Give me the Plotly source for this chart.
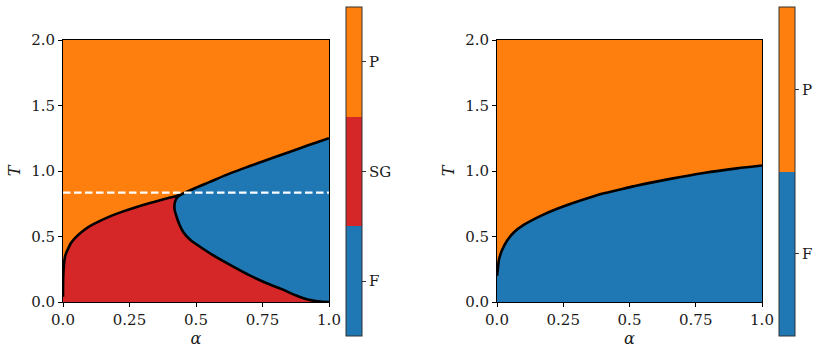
import plotly.graph_objects as go

# ---------------- data ----------------
ALPHA_RANGE = [0.0, 1.0]
T_RANGE = [0.0, 2.0]
X_TICKS = [0.0, 0.25, 0.5, 0.75, 1.0]
X_TICKTEXT = ["0.0", "0.25", "0.5", "0.75", "1.0"]
Y_TICKS = [0.0, 0.5, 1.0, 1.5, 2.0]
Y_TICKTEXT = ["0.0", "0.5", "1.0", "1.5", "2.0"]

# left panel: P / SG boundary (alpha, T)
psg_alpha = [0.0, 0.0, 0.001, 0.004, 0.0075, 0.013, 0.02, 0.03, 0.045, 0.07, 0.095, 0.12, 0.17, 0.221, 0.271, 0.327, 0.365, 0.40, 0.427, 0.445]
psg_T = [0.0, 0.04, 0.2, 0.29, 0.346, 0.38, 0.41, 0.45, 0.488, 0.535, 0.572, 0.60, 0.648, 0.688, 0.722, 0.756, 0.777, 0.795, 0.809, 0.822]

# left panel: SG / F boundary (from the triple point down to alpha=1, T=0)
sgf_alpha = [0.445, 0.43, 0.422, 0.419, 0.42, 0.427, 0.438, 0.452, 0.478, 0.515, 0.57, 0.64, 0.70, 0.766, 0.82, 0.86, 0.891, 0.92, 0.95, 0.975, 1.0]
sgf_T = [0.822, 0.80, 0.77, 0.74, 0.70, 0.651, 0.59, 0.535, 0.475, 0.422, 0.35, 0.27, 0.205, 0.143, 0.10, 0.064, 0.038, 0.019, 0.007, 0.002, 0.0]

# left panel: P / F boundary (from the triple point up to alpha=1)
pf_alpha = [0.445, 0.50, 0.55, 0.628, 0.70, 0.766, 0.816, 0.891, 0.95, 1.0]
pf_T = [0.822, 0.872, 0.915, 0.982, 1.036, 1.084, 1.12, 1.174, 1.216, 1.25]

DASH_T = 0.835

# right panel: P / F boundary
pf2_alpha = [0.0, 0.003, 0.0075, 0.02, 0.039, 0.064, 0.102, 0.165, 0.227, 0.315, 0.403, 0.498, 0.529, 0.654, 0.78, 0.905, 1.0]
pf2_T = [0.2, 0.25, 0.324, 0.40, 0.471, 0.532, 0.59, 0.658, 0.712, 0.775, 0.83, 0.875, 0.89, 0.94, 0.985, 1.02, 1.042]

LEFT_LABELS = ["F", "SG", "P"]
RIGHT_LABELS = ["F", "P"]

# ---------------- styles ----------------
C_P = "#ff7f0e"
C_SG = "#d62728"
C_F = "#1f77b4"
FONT = "DejaVu Serif"
TXT = "#1a1a1a"
W, H = 821, 351

fig = go.Figure()


def poly(xs, ys, color, xa, ya):
    fig.add_trace(go.Scatter(x=xs, y=ys, mode="lines", fill="toself", fillcolor=color,
                             line=dict(width=0, color=color), hoverinfo="skip",
                             showlegend=False, xaxis=xa, yaxis=ya))


def line(xs, ys, xa, ya, color="black", width=2.6, dash=None, shape="spline"):
    fig.add_trace(go.Scatter(x=xs, y=ys, mode="lines",
                             line=dict(width=width, color=color, dash=dash, shape=shape, smoothing=0.8),
                             hoverinfo="skip", showlegend=False, xaxis=xa, yaxis=ya))


rect_x = [ALPHA_RANGE[0], ALPHA_RANGE[1], ALPHA_RANGE[1], ALPHA_RANGE[0]]
rect_y = [T_RANGE[0], T_RANGE[0], T_RANGE[1], T_RANGE[1]]

# ----- left panel -----
poly(rect_x, rect_y, C_P, "x", "y")
poly(psg_alpha + sgf_alpha, psg_T + sgf_T, C_SG, "x", "y")
poly(pf_alpha + sgf_alpha[::-1], pf_T + sgf_T[::-1], C_F, "x", "y")
line(psg_alpha[1:], psg_T[1:], "x", "y")
line(sgf_alpha, sgf_T, "x", "y")
line(pf_alpha, pf_T, "x", "y")
line(ALPHA_RANGE, [DASH_T, DASH_T], "x", "y", color="white", width=2.2, dash="7.5px,3.5px", shape="linear")

# ----- right panel -----
poly(rect_x, rect_y, C_P, "x2", "y2")
poly([ALPHA_RANGE[0]] + pf2_alpha + [ALPHA_RANGE[1]], [T_RANGE[0]] + pf2_T + [T_RANGE[0]], C_F, "x2", "y2")
line(pf2_alpha, pf2_T, "x2", "y2")


# ----- colorbars (dummy traces) -----
def cbar(labels, colors, xpos, xa, ya):
    n = len(labels)
    cs = []
    for i, c in enumerate(colors):
        cs.append([i / n, c])
        cs.append([(i + 1) / n, c])
    fig.add_trace(go.Scatter(
        x=[None], y=[None], mode="markers", xaxis=xa, yaxis=ya, showlegend=False,
        hoverinfo="skip",
        marker=dict(color=[0], colorscale=cs, cmin=0, cmax=n, showscale=True, size=0,
                    colorbar=dict(
                        tickvals=[i + 0.5 for i in range(n)], ticktext=labels,
                        thicknessmode="pixels", thickness=16,
                        lenmode="pixels", len=329,
                        x=xpos / W, xanchor="left", xpad=0,
                        y=1 - 171.5 / H, yanchor="middle", ypad=0,
                        outlinewidth=1, outlinecolor="#333333",
                        ticks="outside", ticklen=4, tickwidth=1, tickcolor="#333333",
                        tickfont=dict(family=FONT, size=15, color=TXT),
                    ))))


cbar(LEFT_LABELS, [C_F, C_SG, C_P], 346, "x", "y")
cbar(RIGHT_LABELS, [C_F, C_P], 779, "x2", "y2")

axis_common = dict(showline=True, linecolor="black", linewidth=1, mirror=True,
                   ticks="outside", ticklen=4, tickwidth=1, tickcolor="black",
                   showgrid=False, zeroline=False, automargin=False,
                   tickfont=dict(family=FONT, size=15, color=TXT))

xa = dict(axis_common, range=ALPHA_RANGE, tickvals=X_TICKS, ticktext=X_TICKTEXT,
          title=dict(text="<i>α</i>", font=dict(family=FONT, size=16, color=TXT), standoff=0))
ya = dict(axis_common, range=T_RANGE, tickvals=Y_TICKS, ticktext=Y_TICKTEXT,
          title=dict(text="<i>T</i>", font=dict(family=FONT, size=16, color=TXT), standoff=6))

y_dom = [1 - 302 / H, 1 - 40 / H]
fig.update_layout(
    width=W, height=H, margin=dict(l=0, r=0, t=0, b=0),
    paper_bgcolor="white", plot_bgcolor="white", showlegend=False,
    xaxis=dict(xa, domain=[63 / W, 329 / W], anchor="y"),
    yaxis=dict(ya, domain=y_dom, anchor="x"),
    xaxis2=dict(xa, domain=[497 / W, 762 / W], anchor="y2"),
    yaxis2=dict(ya, domain=y_dom, anchor="x2"),
)

fig.write_html("out.html")
